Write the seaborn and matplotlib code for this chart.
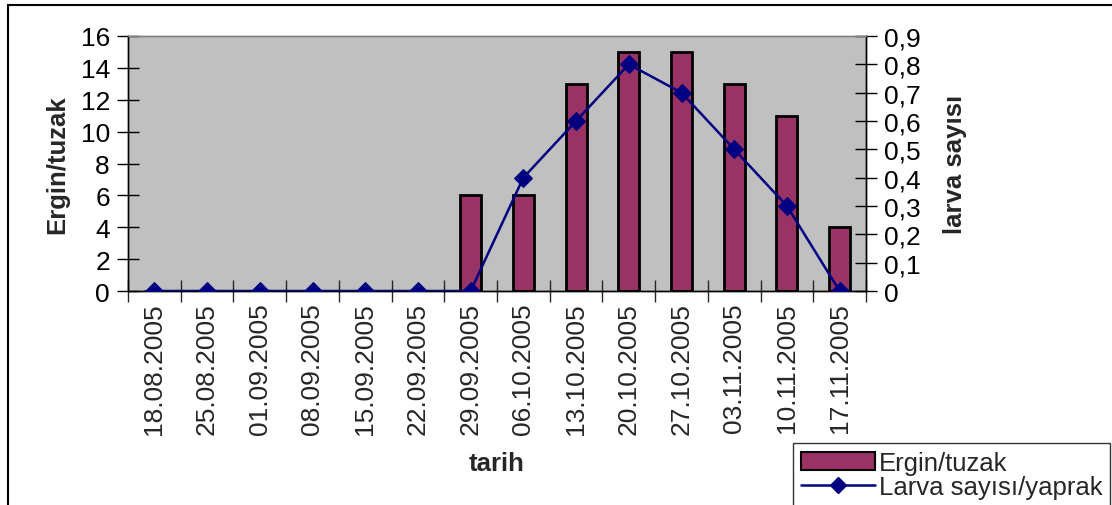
import matplotlib.pyplot as plt
import matplotlib.ticker as mticker
from matplotlib.patches import Rectangle
from matplotlib.lines import Line2D
import seaborn as sns
import numpy as np
import pandas as pd

# Data
dates = ["18.08.2005", "25.08.2005", "01.09.2005", "08.09.2005", "15.09.2005",
         "22.09.2005", "29.09.2005", "06.10.2005", "13.10.2005", "20.10.2005",
         "27.10.2005", "03.11.2005", "10.11.2005", "17.11.2005"]
ergin = [0, 0, 0, 0, 0, 0, 6, 6, 13, 15, 15, 13, 11, 4]
larva = [0, 0, 0, 0, 0, 0, 0, 0.4, 0.6, 0.8, 0.7, 0.5, 0.3, 0]

df = pd.DataFrame({"tarih": dates, "ergin": ergin, "larva": larva})

sns.set_style("white")
plt.rcParams["font.family"] = ["Liberation Sans", "DejaVu Sans"]

bar_color = "#993366"
line_color = "#000080"
fs_tick = 19
fs_lab = 18.5

fig = plt.figure(figsize=(11.12, 5.06), dpi=100)
ax = fig.add_axes([128 / 1112, 1 - 292 / 506, (866 - 128) / 1112, (292 - 37) / 506])
ax.set_facecolor("#C0C0C0")

sns.barplot(data=df, x="tarih", y="ergin", color=bar_color, width=0.4,
            edgecolor="black", linewidth=2, saturation=1, ax=ax, zorder=2)
ax.set_xlim(-0.5, len(dates) - 0.5)
ax.set_ylim(0, 16)
ax.set_yticks(np.arange(0, 17, 2))
ax.set_ylabel("Ergin/tuzak", fontsize=fs_lab, fontweight="bold", labelpad=8)
ax.set_xlabel("tarih", fontsize=fs_lab, fontweight="bold", labelpad=12)
ax.tick_params(axis="y", direction="inout", length=16, width=1, labelsize=fs_tick, colors="black", pad=5, left=True)
ax.tick_params(axis="x", which="major", length=0, labelsize=fs_tick, labelrotation=90, pad=8)
ax.xaxis.set_minor_locator(mticker.FixedLocator(np.arange(-0.5, len(dates), 1)))
ax.tick_params(axis="x", which="minor", direction="inout", length=16, width=1, bottom=True)

ax2 = ax.twinx()
sns.lineplot(x=np.arange(len(dates)), y=larva, color=line_color, linewidth=1.8,
             marker="D", markersize=9, markeredgecolor=line_color, ax=ax2, zorder=3)
ax2.set_ylim(0, 0.9)
ax2.set_yticks(np.arange(0, 0.91, 0.1))
ax2.yaxis.set_major_formatter(mticker.FuncFormatter(
    lambda v, p: "0" if abs(v) < 1e-9 else f"{v:.1f}".replace(".", ",")))
ax2.set_ylabel("larva sayısı", fontsize=fs_lab, fontweight="bold", labelpad=16)
ax2.tick_params(axis="y", direction="inout", length=16, width=1, labelsize=fs_tick, colors="black", pad=5, right=True)
ax2.set_xlim(-0.5, len(dates) - 0.5)

for a in (ax, ax2):
    for side in ("left", "right", "bottom"):
        a.spines[side].set_color("black")
        a.spines[side].set_linewidth(1)
    a.spines["top"].set_color("#808080")
    a.spines["top"].set_linewidth(1)

# Outer chart border (cut off at right and bottom)
fig.patches.append(Rectangle((8 / 1112, -0.1), 1.2, 1 - 6 / 506 + 0.1, transform=fig.transFigure,
                             fill=False, edgecolor="black", linewidth=1.5))

handles = [Rectangle((0, 0), 1, 1, facecolor=bar_color, edgecolor="black", linewidth=1.5),
           Line2D([0], [0], color=line_color, linewidth=1.8, marker="D", markersize=8)]
leg = fig.legend(handles, ["Ergin/tuzak", "Larva sayısı/yaprak"], loc="upper left",
                 bbox_to_anchor=(793 / 1112, 1 - 444 / 506), fontsize=fs_lab, frameon=True,
                 fancybox=False, edgecolor="black", borderpad=0.3, labelspacing=0.0,
                 handlelength=2.9, handletextpad=0.15, borderaxespad=0)
leg.get_frame().set_linewidth(1)

fig.savefig("out.png", dpi=100)
